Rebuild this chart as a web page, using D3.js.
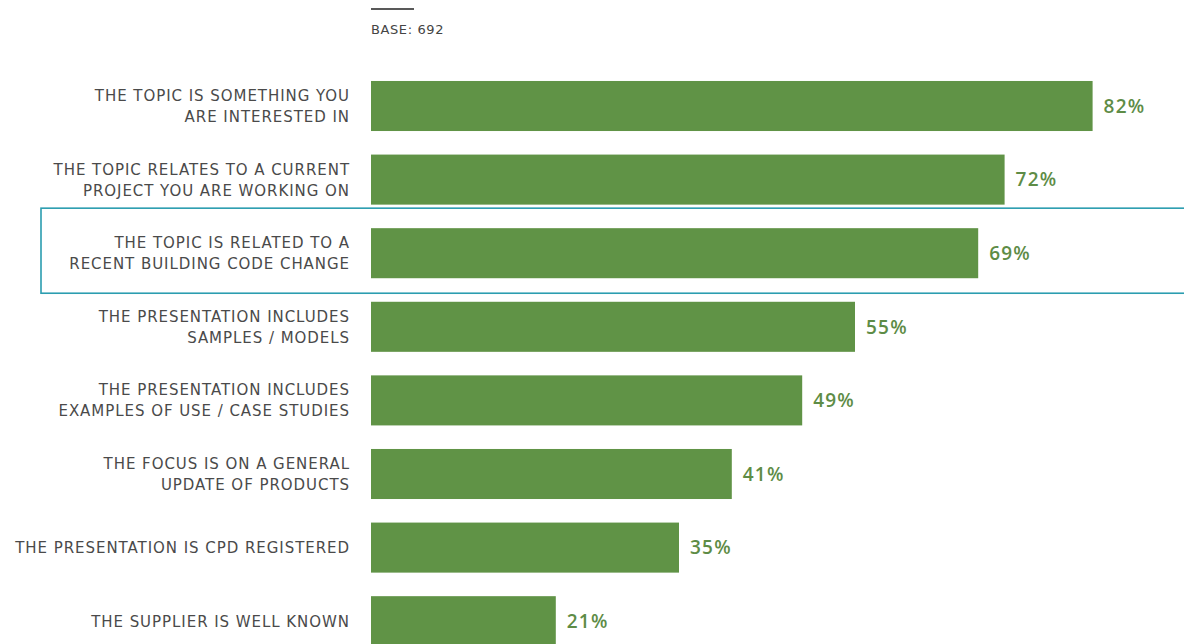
<!DOCTYPE html>
<html>
<head>
<meta charset="utf-8">
<script src="https://cdn.jsdelivr.net/npm/d3@7"></script>
<style>
  html, body { margin: 0; padding: 0; background: #fff; }
  svg { display: block; }
</style>
</head>
<body>
<svg id="chart" width="1184" height="644"></svg>
<script>
// Survey responses: what makes a CPD presentation appealing
const categories = [
  ["THE TOPIC IS SOMETHING YOU", "ARE INTERESTED IN"],
  ["THE TOPIC RELATES TO A CURRENT", "PROJECT YOU ARE WORKING ON"],
  ["THE TOPIC IS RELATED TO A", "RECENT BUILDING CODE CHANGE"],
  ["THE PRESENTATION INCLUDES", "SAMPLES / MODELS"],
  ["THE PRESENTATION INCLUDES", "EXAMPLES OF USE / CASE STUDIES"],
  ["THE FOCUS IS ON A GENERAL", "UPDATE OF PRODUCTS"],
  ["THE PRESENTATION IS CPD REGISTERED"],
  ["THE SUPPLIER IS WELL KNOWN"]
];
const values = [82, 72, 69, 55, 49, 41, 35, 21];
const highlighted = [2];
const baseNote = "BASE: 692";

const svg = d3.select("#chart");
const W = 1184, H = 644;

const x = d3.scaleLinear().domain([0, 100]).range([371, 1251]);
const y = d3.scaleBand()
  .domain(d3.range(categories.length))
  .range([69.2, 69.2 + 8 * 73.6])
  .paddingInner(0.32)
  .paddingOuter(0.16);

// Short rule and base size note above the bars
svg.append("line")
  .attr("x1", x(0)).attr("x2", x(0) + 43)
  .attr("y1", 9).attr("y2", 9)
  .attr("stroke", "#222").attr("stroke-width", 1.6);
svg.append("text")
  .attr("x", x(0)).attr("y", 34)
  .attr("font-family", "'DejaVu Sans', sans-serif")
  .attr("font-size", 13)
  .attr("letter-spacing", 0.6)
  .attr("fill", "#444")
  .text(baseNote);

// Highlight frame around the emphasised row
highlighted.forEach(i => {
  svg.append("rect")
    .attr("x", 41)
    .attr("y", y(i) - 20)
    .attr("width", W - 41 + 10)
    .attr("height", y.bandwidth() + 35)
    .attr("fill", "none")
    .attr("stroke", "#2b9db0")
    .attr("stroke-width", 1.6);
});

const rows = svg.append("g").selectAll("g")
  .data(values.map((v, i) => ({ v, i, lines: categories[i] })))
  .join("g");

rows.append("rect")
  .attr("x", x(0))
  .attr("y", d => y(d.i))
  .attr("width", d => x(d.v) - x(0))
  .attr("height", y.bandwidth())
  .attr("fill", "#609346");

rows.append("text")
  .attr("x", d => x(d.v) + 11)
  .attr("y", d => y(d.i) + y.bandwidth() / 2)
  .attr("dy", "0.36em")
  .attr("font-family", "'Open Sans', sans-serif")
  .attr("font-weight", 600)
  .attr("font-size", 19)
  .attr("letter-spacing", 1.2)
  .attr("fill", "#5e8c46")
  .text(d => d.v + "%");

const lineH = 21;
rows.append("text")
  .attr("text-anchor", "end")
  .attr("font-family", "'DejaVu Sans', sans-serif")
  .attr("font-size", 15)
  .attr("letter-spacing", 0.95)
  .attr("fill", "#4a4a4a")
  .each(function(d) {
    const t = d3.select(this);
    const cy = y(d.i) + y.bandwidth() / 2;
    const n = d.lines.length;
    d.lines.forEach((s, k) => {
      t.append("tspan")
        .attr("x", 350)
        .attr("y", cy + (k - (n - 1) / 2) * lineH)
        .attr("dy", "0.36em")
        .text(s);
    });
  });
</script>
</body>
</html>
